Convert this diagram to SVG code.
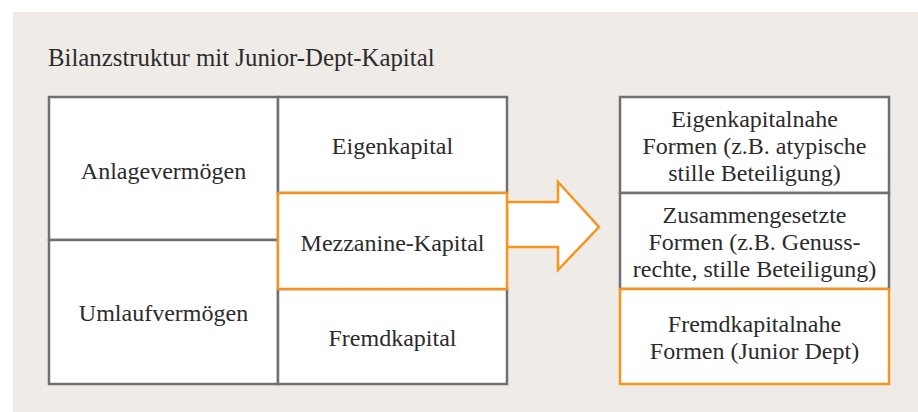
<svg xmlns="http://www.w3.org/2000/svg" width="918" height="412" viewBox="0 0 918 412">
<style>
text{font-family:"Liberation Serif","DejaVu Serif",serif;font-size:24px;fill:#2b2b2b;text-anchor:middle}
.title{text-anchor:start;font-size:24.8px}
.g{fill:#fff;stroke:#707074;stroke-width:2.5}
.o{fill:#fff;stroke:#f7941d;stroke-width:2.5}
</style>
<rect x="13" y="12" width="905" height="400" fill="#efebe7"/>
<text class="title" x="48" y="66">Bilanzstruktur mit Junior-Dept-Kapital</text>
<g id="anlage"><rect class="g" x="49" y="97" width="229" height="143"/><text x="163.5" y="179">Anlagevermögen</text></g>
<g id="umlauf"><rect class="g" x="49" y="240" width="229" height="144"/><text x="163.5" y="321">Umlaufvermögen</text></g>
<g id="eigen"><rect class="g" x="278" y="97" width="229" height="96"/><text x="392.5" y="154">Eigenkapital</text></g>
<g id="fremd"><rect class="g" x="278" y="289" width="229" height="95"/><text x="392.5" y="346">Fremdkapital</text></g>
<g id="connectors"><path class="o" d="M507,202 H558 V182 L599,227 L558,270 V247 H507 Z"/></g>
<g id="mezz"><rect class="o" x="278" y="193" width="229" height="96"/><text x="392.5" y="251">Mezzanine-Kapital</text></g>
<g id="ekn"><rect class="g" x="620" y="97" width="269" height="96"/><text x="754.5" y="127">Eigenkapitalnahe</text><text x="754.5" y="154">Formen (z.B. atypische</text><text x="754.5" y="181">stille Beteiligung)</text></g>
<g id="zus"><rect class="g" x="620" y="193" width="269" height="96"/><text x="754.5" y="223">Zusammengesetzte</text><text x="754.5" y="250">Formen (z.B. Genuss-</text><text x="754.5" y="277">rechte, stille Beteiligung)</text></g>
<g id="fkn"><rect class="o" x="620" y="289" width="269" height="95"/><text x="754.5" y="332">Fremdkapitalnahe</text><text x="754.5" y="359">Formen (Junior Dept)</text></g>
</svg>
